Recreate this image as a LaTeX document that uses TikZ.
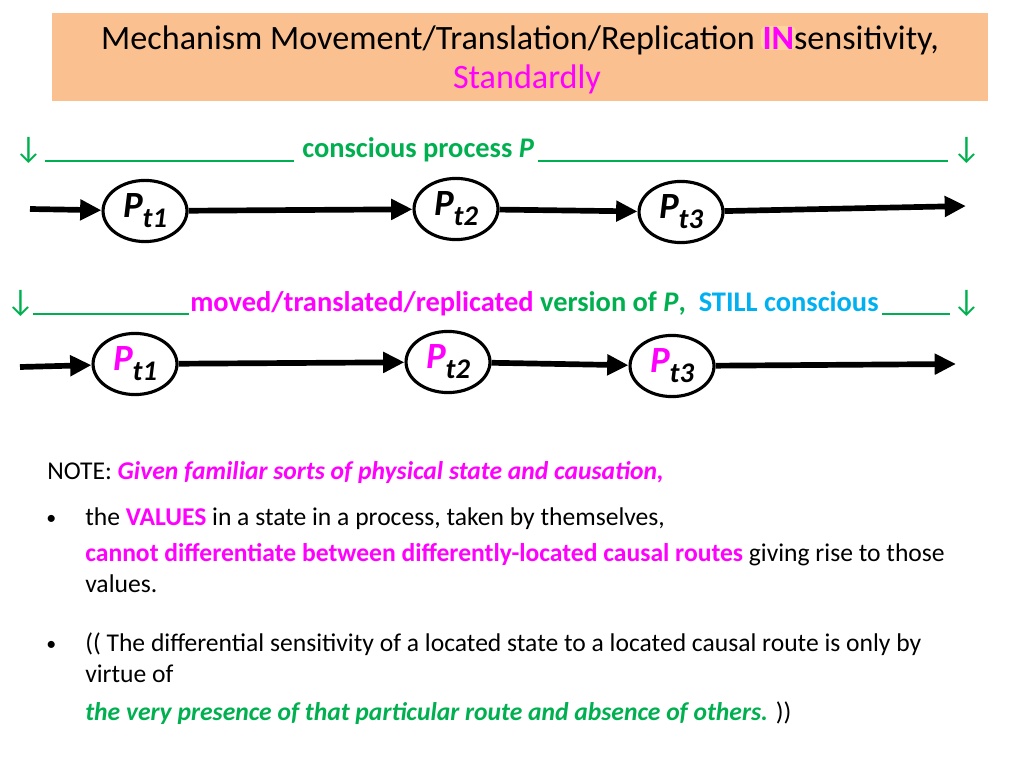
\documentclass[tikz,border=0pt]{standalone}
\usepackage{fontspec}
\setmainfont{Carlito}
\usetikzlibrary{shapes.geometric,arrows.meta}
\definecolor{mag}{RGB}{255,0,255}
\definecolor{grn}{RGB}{0,176,80}
\definecolor{cyn}{RGB}{0,176,240}
\definecolor{peach}{RGB}{250,192,144}
\definecolor{glow}{RGB}{255,225,170}
\tikzset{
  lbl/.style={font=\bfseries\fontsize{20}{20}\selectfont, text=grn, inner sep=0, anchor=base west},
  darr/.style={font=\fontsize{22}{22}\selectfont, text=grn, inner sep=0, anchor=base west},
  uline/.style={grn, line width=1.6},
  body/.style={font=\fontsize{18}{18}\selectfont, inner sep=0, anchor=base west},
  bul/.style={font=\fontsize{14}{14}\selectfont, inner sep=0, anchor=base west},
  state/.style={ellipse, draw, line width=2.2, minimum width=59pt, minimum height=43pt, inner sep=0, fill=white},
  flow/.style={line width=4, -{Triangle[length=15,width=14]}},
}
\newcommand{\plab}[2]{{\fontsize{26}{26}\selectfont\bfseries\itshape\textcolor{#1}{P}}\raisebox{-7pt}{\fontsize{20}{20}\selectfont\bfseries\itshape t#2}}
\begin{document}
\begin{tikzpicture}[x=0.703125pt,y=-0.703125pt]
\useasboundingbox (0,0) rectangle (1024,768);
\fill[white] (0,0) rectangle (1024,768);
% title
\fill[peach] (52,13) rectangle (988,101);
\fill[glow, opacity=0.6, rounded corners=4] (761,26) rectangle (796,50);
\node[anchor=base, inner sep=0, font=\fontsize{24}{24}\selectfont] (title1) at (520,50)
  {Mechanism Movement/Translation/Replication \textcolor{mag}{\bfseries IN}sensitivity,};
\node[anchor=base, inner sep=0, font=\fontsize{24}{24}\selectfont, text=mag] (title2) at (527,89) {Standardly};
% row 1 label
\node[darr] (r1a) at (14,159) {↓};
\draw[uline] (45,161) -- (294,161);
\node[lbl] (r1t) at (302,158) {conscious process \textit{P}};
\draw[uline] (538,161) -- (948,161);
\node[darr] (r1b) at (952,159) {↓};
% row 1 states
\coordinate (s1) at (30,209);
\node[state] (p11) at (145,211) {\plab{black}{1}};
\node[state] (p12) at (456,209) {\plab{black}{2}};
\node[state] (p13) at (681,212) {\plab{black}{3}};
\coordinate (e1) at (966,206);
\draw[flow] (s1) -- (p11);
\draw[flow] (p11) -- (p12);
\draw[flow] (p12) -- (p13);
\draw[flow] (p13) -- (e1);
% row 2 label
\node[darr] (r2a) at (6,312) {↓};
\draw[uline] (33,314) -- (189,314);
\node[lbl] (r2t) at (190,311) {\textcolor{mag}{moved/translated/replicated} version of \textit{P},\ \ \textcolor{cyn}{STILL conscious}};
\draw[uline] (882,314) -- (950,314);
\node[darr] (r2b) at (952,312) {↓};
% row 2 states
\coordinate (s2) at (20,367);
\node[state] (p21) at (135,364) {\plab{mag}{1}};
\node[state] (p22) at (448,362) {\plab{mag}{2}};
\node[state] (p23) at (672,366) {\plab{mag}{3}};
\coordinate (e2) at (956,364);
\draw[flow] (s2) -- (p21);
\draw[flow] (p21) -- (p22);
\draw[flow] (p22) -- (p23);
\draw[flow] (p23) -- (e2);
% note
\node[body] (note) at (47,479) {NOTE: \textcolor{mag}{\bfseries\itshape Given familiar sorts of physical state and causation,}};
\node[bul] (b1) at (46,524) {•};
\node[body] (l1) at (85,525) {the \textcolor{mag}{\bfseries VALUES} in a state in a process, taken by themselves,};
\node[body] (l2) at (85,561) {\textcolor{mag}{\bfseries cannot differentiate between differently-located causal routes} giving rise to those};
\node[body] (l3) at (85,592) {values.};
\node[bul] (b2) at (46,650) {•};
\node[body] (l4) at (85,651) {(( The differential sensitivity of a located state to a located causal route is only by};
\node[body] (l5) at (85,682) {virtue of};
\node[body] (l6) at (85,720) {\textcolor{grn}{\bfseries\itshape the very presence of that particular route and absence of others.} ))};
\end{tikzpicture}
\end{document}
